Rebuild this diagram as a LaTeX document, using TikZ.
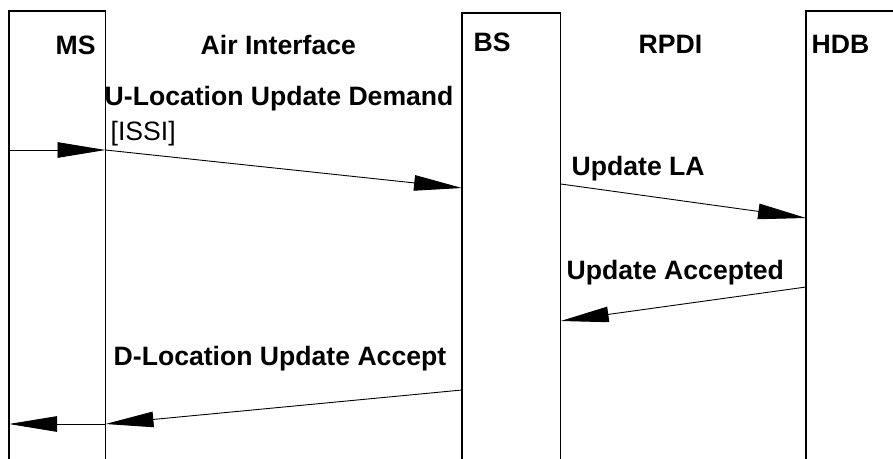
\documentclass[tikz,border=0pt]{standalone}
\usepackage{fontspec}
\setmainfont{Liberation Sans}
\usetikzlibrary{arrows.meta}
\begin{document}
\begin{tikzpicture}[x=1pt,y=-1pt,
  lifebox/.style={draw, line width=1.4pt, outer sep=0pt, inner sep=0pt, anchor=north west, minimum height=500pt},
  msg/.style={line width=0.9pt, -{Triangle[length=48pt,width=15.5pt]}},
  title/.style={font=\fontsize{26.6}{30}\selectfont\bfseries, anchor=base west, inner sep=0pt},
  lbl/.style={font=\fontsize{26.6}{30}\selectfont\bfseries, anchor=base west, inner sep=0pt},
  param/.style={font=\fontsize{26.6}{30}\selectfont, anchor=base west, inner sep=0pt}]
\useasboundingbox (0,0) rectangle (893,458);
\clip (0,0) rectangle (893,458);
\fill[white] (0,0) rectangle (893,458);
% lifeline boxes
\node[lifebox, minimum width=96.5pt] (ms) at (9,11) {};
\node[lifebox, minimum width=98.7pt] (bs) at (462,13) {};
\node[lifebox, minimum width=200pt] (hdb) at (806,11) {};
% titles
\node[title] (tms) at (55.5,54) {MS};
\node[title] (tair) at (200.5,54) {Air Interface};
\node[title] (tbs) at (473.5,51) {BS};
\node[title] (trpdi) at (638.5,53.5) {RPDI};
\node[title] (thdb) at (811.5,53.5) {HDB};
% message labels
\node[lbl] (l1) at (104.5,105) {U-Location Update Demand};
\node[param] (l1p) at (110.5,140) {[ISSI]};
\node[lbl] (l2) at (571.5,175.5) {Update LA};
\node[lbl] (l3) at (566.5,279) {Update Accepted};
\node[lbl] (l4) at (113.5,365) {D-Location Update Accept};
% messages
\draw[msg] (ms.west |- 0,150) -- (ms.east |- 0,150);
\draw[msg] (ms.east |- 0,150) -- (bs.west |- 0,188);
\draw[msg] (bs.east |- 0,184) -- (hdb.west |- 0,218);
\draw[msg] (hdb.west |- 0,287) -- (bs.east |- 0,321);
\draw[msg] (bs.west |- 0,390) -- (ms.east |- 0,424);
\draw[msg] (ms.east |- 0,424) -- (ms.west |- 0,424);
\end{tikzpicture}
\end{document}
